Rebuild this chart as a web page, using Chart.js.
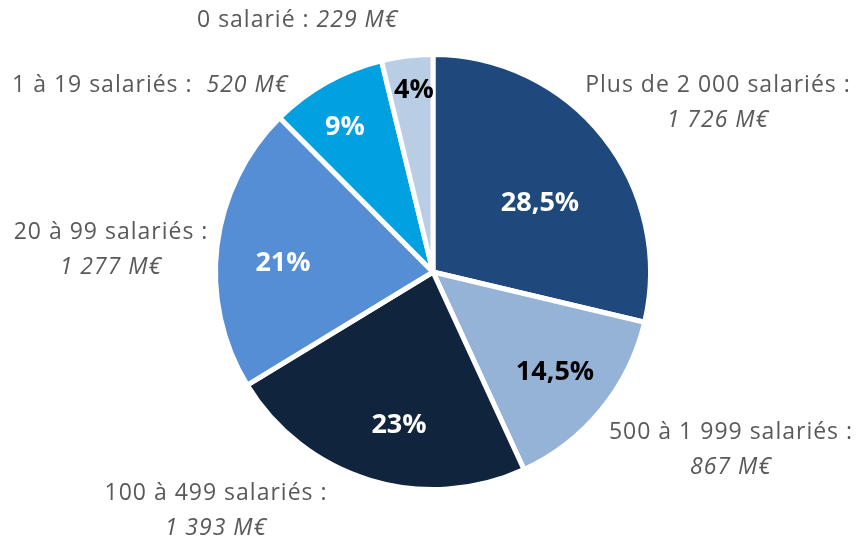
<!DOCTYPE html>
<html>
<head>
<meta charset="utf-8">
<script src="https://cdn.jsdelivr.net/npm/chart.js@4/dist/chart.umd.min.js"></script>
<style>
  html, body { margin: 0; padding: 0; background: #fff; }
  #pie { display: block; }
</style>
</head>
<body>
<canvas id="pie" width="858" height="537"></canvas>
<script>
// DATA
const categories = ["Plus de 2 000 salariés :", "500 à 1 999 salariés :", "100 à 499 salariés :", "20 à 99 salariés :", "1 à 19 salariés :", "0 salarié :"];
const amounts = [1726, 867, 1393, 1277, 520, 229];
const amountLabels = ["1 726 M€", "867 M€", "1 393 M€", "1 277 M€", "520 M€", "229 M€"];
const pctLabels = ["28,5%", "14,5%", "23%", "21%", "9%", "4%"];

// STYLE
const sliceColors = ["#1F497D", "#95B3D7", "#10243E", "#558ED5", "#00A0E1", "#B9CDE5"];
const pctColors = ["#fff", "#000", "#fff", "#fff", "#fff", "#000"];
const FONT = "'Open Sans', sans-serif";
const GREY = "#595959";

// label layout, offsets from pie centre
const pctOffset = [[107, -71], [122, 98], [-34, 151], [-150, -11], [-88, -147], [-19, -184]];
const outerLayout = [
  { x: 285, y: -187, twoLines: true },
  { x: 298, y: 160, twoLines: true },
  { x: -217, y: 221, twoLines: true },
  { x: -322, y: -40, twoLines: true },
  { x: -421, y: -187, twoLines: false, gap: "  " },
  { x: -236, y: -252, twoLines: false, gap: " " },
];

const labelPlugin = {
  id: "pieLabels",
  afterDatasetsDraw(chart) {
    const ctx = chart.ctx;
    const arcs = chart.getDatasetMeta(0).data;
    const cx = arcs[0].x, cy = arcs[0].y;
    ctx.save();
    // percentages inside
    ctx.textBaseline = "alphabetic";
    ctx.textAlign = "center";
    ctx.font = "bold 27px " + FONT;
    ctx.letterSpacing = "0px";
    arcs.forEach((arc, i) => {
      ctx.fillStyle = pctColors[i];
      ctx.fillText(pctLabels[i], cx + pctOffset[i][0], cy + pctOffset[i][1] + 10);
    });
    // category labels outside
    ctx.textBaseline = "middle";
    ctx.fillStyle = GREY;
    ctx.letterSpacing = "1px";
    outerLayout.forEach((p, i) => {
      const x = cx + p.x, y = cy + p.y;
      if (p.twoLines) {
        ctx.textAlign = "center";
        ctx.font = "23px " + FONT;
        ctx.fillText(categories[i], x, y);
        ctx.font = "italic 23px " + FONT;
        ctx.fillText(amountLabels[i], x, y + 35);
      } else {
        ctx.textAlign = "left";
        ctx.font = "23px " + FONT;
        const t = categories[i] + p.gap;
        ctx.fillText(t, x, y);
        const w = ctx.measureText(t).width;
        ctx.font = "italic 23px " + FONT;
        ctx.fillText(amountLabels[i], x + w, y);
      }
    });
    ctx.restore();
  }
};

new Chart(document.getElementById("pie"), {
  type: "pie",
  data: {
    labels: categories,
    datasets: [{
      data: amounts,
      backgroundColor: sliceColors,
      borderColor: "#fff",
      borderWidth: 5,
    }],
  },
  options: {
    responsive: false,
    animation: false,
    layout: { padding: { left: 213, right: 205, top: 52, bottom: 45 } },
    plugins: {
      legend: { display: false },
      tooltip: { enabled: false },
    },
  },
  plugins: [labelPlugin],
});
</script>
</body>
</html>
